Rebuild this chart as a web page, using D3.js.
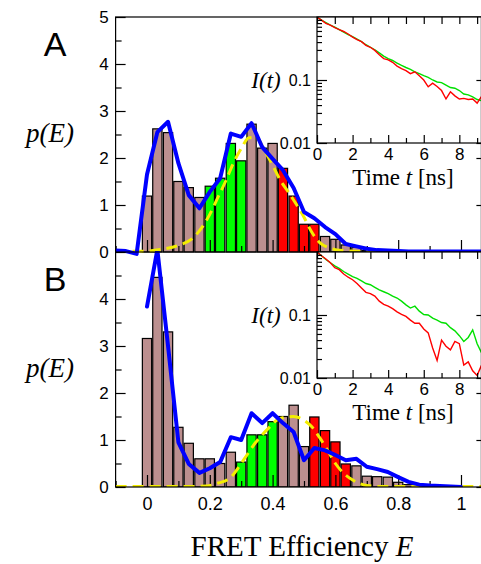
<!DOCTYPE html>
<html>
<head>
<meta charset="utf-8">
<script src="https://cdn.jsdelivr.net/npm/d3@7"></script>
<style>
  body { margin: 0; background: #fff; }
  text { fill: #000; }
</style>
</head>
<body>
<div id="chart"></div>
<script>
const width = 481;
const height = 564;

// histogram bins (FRET efficiency, bin centres), width 1/30
const binE = [0.000, 0.033, 0.067, 0.100, 0.133, 0.167, 0.200, 0.233, 0.267, 0.300,
              0.333, 0.367, 0.400, 0.433, 0.467, 0.500, 0.533, 0.567, 0.600, 0.633,
              0.667, 0.700, 0.733, 0.767, 0.800, 0.833, 0.867];
const binWidth = 0.0333;

// panel A histogram
const barsA = [1.19, 2.62, 2.54, 1.50, 1.37, 1.16, 1.40, 1.57, 2.31, 1.94,
               2.72, 2.21, 2.31, 1.78, 1.19, 0.59, 0.59, 0.33, 0.27, 0.15,
               0.10, 0.03, 0, 0, 0, 0, 0];
const groupA = ["n","n","n","n","n","n","g","g","g","g",
                "n","n","n","r","r","r","r","n","n","n",
                "n","n","n","n","n","n","n"];

// panel B histogram
const barsB = [3.16, 4.46, 3.30, 1.27, 0.93, 0.60, 0.60, 0.50, 0.74, 0.53,
               1.11, 1.11, 1.39, 1.50, 1.74, 0.86, 1.49, 1.20, 0.96, 0.49,
               0.45, 0.23, 0.22, 0.21, 0.10, 0.05, 0.03];
const groupB = ["n","n","n","n","n","n","n","n","n","g",
                "g","g","g","n","n","n","r","r","r","r",
                "n","n","n","n","n","n","n"];

// blue curves
const fitEA = [-0.100, -0.067, -0.033, 0.000, 0.033, 0.067, 0.100, 0.133, 0.167, 0.200,
               0.233, 0.267, 0.300, 0.333, 0.367, 0.400, 0.433, 0.467, 0.500, 0.533,
               0.567, 0.600, 0.633, 0.667, 0.700, 0.733, 0.767, 0.800, 0.833, 0.900, 1.000, 1.065];
const fitA  = [0.03, 0.02, -0.04, 1.65, 2.55, 2.77, 1.89, 1.21, 0.93, 1.28,
               1.57, 2.52, 2.45, 2.74, 2.23, 1.98, 1.74, 1.36, 0.85, 0.72,
               0.53, 0.38, 0.17, 0.12, 0.07, 0.04, 0.03, 0.02, 0.01, 0.01, 0.01, 0.01];
const fitEB = [0.000, 0.033, 0.067, 0.100, 0.133, 0.167, 0.200, 0.233, 0.267, 0.300,
               0.333, 0.367, 0.400, 0.433, 0.467, 0.500, 0.533, 0.567, 0.600, 0.633,
               0.667, 0.700, 0.733, 0.767, 0.800, 0.833, 0.867, 0.900, 0.933, 0.967, 1.000];
const fitB  = [3.84, 5.05, 3.00, 0.95, 0.49, 0.30, 0.40, 0.53, 1.06, 1.00,
               1.57, 1.36, 1.57, 1.36, 1.17, 0.57, 0.83, 0.78, 0.68, 0.57,
               0.60, 0.43, 0.38, 0.32, 0.21, 0.11, 0.05, 0.03, 0.02, 0.01, 0.00];

// yellow dashed curves
const gaussEA = [-0.1, 0.0, 0.05, 0.1, 0.15, 0.2, 0.225, 0.25, 0.275, 0.3, 0.325, 0.35, 0.375,
                 0.4, 0.425, 0.45, 0.475, 0.5, 0.525, 0.55, 0.575, 0.6, 0.65, 0.7, 1.065];
const gaussA  = [0.01, 0.02, 0.06, 0.14, 0.32, 0.8, 1.15, 1.5, 1.89, 2.2, 2.43, 2.42, 2.15,
                 1.85, 1.52, 1.28, 1.02, 0.74, 0.42, 0.2, 0.1, 0.05, 0.02, 0.01, 0.01];
const gaussEB = [-0.1, 0.1, 0.19, 0.225, 0.264, 0.307, 0.344, 0.381, 0.424, 0.466, 0.498,
                 0.525, 0.55, 0.575, 0.6, 0.625, 0.65, 0.675, 0.7, 0.75, 1.065];
const gaussB  = [0.01, 0.01, 0.02, 0.08, 0.19, 0.57, 0.93, 1.21, 1.46, 1.5, 1.43,
                 1.28, 1.05, 0.78, 0.5, 0.3, 0.17, 0.08, 0.03, 0.01, 0.01];

// fluorescence decays (insets)
const decayT = [0, 0.25, 0.5, 0.75, 1, 1.25, 1.5, 1.75, 2, 2.25, 2.5, 2.75, 3, 3.25, 3.5, 3.75,
                4, 4.25, 4.5, 4.75, 5, 5.25, 5.5, 5.75, 6, 6.25, 6.5, 6.75, 7, 7.25, 7.5, 7.75,
                8, 8.25, 8.5, 8.75, 9, 9.25];
const donorA = [1.0, 0.891, 0.813, 0.741, 0.692, 0.631, 0.575, 0.525, 0.490, 0.447, 0.407, 0.363,
                0.331, 0.302, 0.269, 0.240, 0.219, 0.204, 0.186, 0.170, 0.158, 0.148, 0.135, 0.126,
                0.117, 0.110, 0.100, 0.093, 0.091, 0.083, 0.076, 0.074, 0.068, 0.060, 0.058, 0.054,
                0.049, 0.047];
const acceptorA = [1.0, 0.891, 0.794, 0.741, 0.676, 0.631, 0.589, 0.537, 0.479, 0.437, 0.407, 0.355,
                   0.331, 0.295, 0.251, 0.219, 0.209, 0.191, 0.166, 0.151, 0.141, 0.126, 0.135, 0.117,
                   0.100, 0.078, 0.089, 0.079, 0.068, 0.050, 0.065, 0.056, 0.050, 0.051, 0.049, 0.050,
                   0.043, 0.055];
const donorB = [1.0, 0.871, 0.759, 0.676, 0.603, 0.550, 0.490, 0.447, 0.407, 0.380, 0.347, 0.316,
                0.302, 0.275, 0.251, 0.234, 0.219, 0.200, 0.186, 0.166, 0.145, 0.129, 0.138, 0.115,
                0.102, 0.100, 0.089, 0.083, 0.076, 0.074, 0.063, 0.056, 0.047, 0.038, 0.044, 0.058,
                0.035, 0.025];
const acceptorB = [1.0, 0.871, 0.776, 0.676, 0.562, 0.525, 0.447, 0.398, 0.363, 0.316, 0.269, 0.229,
                   0.219, 0.200, 0.166, 0.148, 0.138, 0.126, 0.112, 0.102, 0.095, 0.083, 0.074, 0.074,
                   0.060, 0.052, 0.030, 0.019, 0.040, 0.032, 0.028, 0.038, 0.035, 0.016, 0.018, 0.013,
                   0.011, 0.016];

// tick labels
const xTicks = [0, 0.2, 0.4, 0.6, 0.8, 1];
const xMinor = [-0.1, 0.1, 0.3, 0.5, 0.7, 0.9];
const yTicksA = [0, 1, 2, 3, 4, 5];
const yTicksB = [0, 1, 2, 3, 4];
const yMinor = [0.5, 1.5, 2.5, 3.5, 4.5];
const tTicks = [0, 2, 4, 6, 8];
const tMinor = [1, 3, 5, 7, 9];
const iTicks = [0.01, 0.1];

const barFill = { n: "#bc8f8f", g: "#00ff00", r: "#ff0000" };
const sans = "'Liberation Sans', Arial, sans-serif";
const serif = "'Liberation Serif', 'Times New Roman', serif";

const svg = d3.select("#chart").append("svg")
    .attr("width", width)
    .attr("height", height);

const x = d3.scaleLinear()
    .domain([-0.1, 1.065])
    .range([115.6, 481.4]);

const panels = [
    { name: "A", top: 17, bottom: 252, bars: barsA, group: groupA, fitE: fitEA, fit: fitA,
      gE: gaussEA, g: gaussA, yTicks: yTicksA, clip: [17, 256] },
    { name: "B", top: 252, bottom: 487, bars: barsB, group: groupB, fitE: fitEB, fit: fitB,
      gE: gaussEB, g: gaussB, yTicks: yTicksB, clip: [251, 487] }
];

panels.forEach((p, i) => {
    const y = d3.scaleLinear().domain([0, 5]).range([p.bottom, p.top]);
    p.y = y;

    svg.append("clipPath").attr("id", "clip" + i)
        .append("rect")
        .attr("x", x.range()[0]).attr("y", p.clip[0])
        .attr("width", x.range()[1] - x.range()[0])
        .attr("height", p.clip[1] - p.clip[0]);

    const g = svg.append("g").attr("clip-path", `url(#clip${i})`);

    g.selectAll("rect.bar")
        .data(binE.map((e, k) => ({ e, v: p.bars[k], c: p.group[k] })).filter(d => d.v > 0))
        .enter().append("rect")
        .attr("class", "bar")
        .attr("x", d => x(d.e - binWidth / 2) + 0.6)
        .attr("width", d => x(d.e + binWidth / 2) - x(d.e - binWidth / 2) - 1.2)
        .attr("y", d => y(d.v))
        .attr("height", d => y(0) - y(d.v))
        .attr("fill", d => barFill[d.c])
        .attr("stroke", "#000")
        .attr("stroke-width", 1.2);

    // small x ticks inside the panel bottom
    const bottomAxis = g.append("g").attr("transform", `translate(0,${p.bottom})`);
    bottomAxis.call(d3.axisBottom(x).tickValues(xTicks).tickSize(-12).tickFormat(""));
    bottomAxis.append("g").call(d3.axisBottom(x).tickValues(xMinor).tickSize(-6).tickFormat(""));
    bottomAxis.selectAll(".domain").remove();
    bottomAxis.selectAll("line").attr("stroke", "#000").attr("stroke-width", 1.2);

    const gaussLine = d3.line()
        .x(d => x(d[0]))
        .y(d => y(d[1]))
        .curve(d3.curveMonotoneX);
    g.append("path")
        .datum(p.gE.map((e, k) => [e, p.g[k]]))
        .attr("d", gaussLine)
        .attr("fill", "none")
        .attr("stroke", "#f4ee00")
        .attr("stroke-width", 3)
        .attr("stroke-dasharray", "11,6");

    const fitLine = d3.line()
        .x(d => x(d[0]))
        .y(d => y(d[1]));
    g.append("path")
        .datum(p.fitE.map((e, k) => [e, p.fit[k]]))
        .attr("d", fitLine)
        .attr("fill", "none")
        .attr("stroke", "#0000ff")
        .attr("stroke-width", 4)
        .attr("stroke-linejoin", "round")
        .attr("stroke-linecap", "round");

    // left axis
    const left = svg.append("g")
        .attr("transform", `translate(${x.range()[0]},0)`)
        .call(d3.axisLeft(y).tickValues(p.yTicks).tickSize(-10).tickPadding(7).tickFormat(d3.format("d")));
    left.append("g").call(d3.axisLeft(y).tickValues(yMinor).tickSize(-6).tickFormat(""));
    left.selectAll(".domain").remove();
    left.selectAll("line").attr("stroke", "#000").attr("stroke-width", 1.2);
    left.selectAll("text").style("font-family", sans).style("font-size", "17px").attr("fill", "#000");

    // right axis
    const right = svg.append("g")
        .attr("transform", `translate(${x.range()[1]},0)`)
        .call(d3.axisRight(y).tickValues(yTicksA).tickSize(-5).tickFormat(""));
    right.selectAll(".domain").remove();
    right.selectAll("line").attr("stroke", "#000").attr("stroke-width", 1.2);

    svg.append("text")
        .attr("x", 55).attr("y", p.top + 39)
        .attr("text-anchor", "middle")
        .style("font-family", sans).style("font-size", "34px")
        .text(p.name);

    svg.append("text")
        .attr("x", 50).attr("y", p.top + 125)
        .attr("text-anchor", "middle")
        .style("font-family", serif).style("font-size", "27px").style("font-style", "italic")
        .text("p(E)");
});

// frame
svg.append("rect")
    .attr("x", x.range()[0]).attr("y", panels[0].top)
    .attr("width", x.range()[1] - x.range()[0])
    .attr("height", panels[1].bottom - panels[0].top)
    .attr("fill", "none").attr("stroke", "#000").attr("stroke-width", 1.2);
svg.append("line")
    .attr("x1", x.range()[0]).attr("x2", x.range()[1])
    .attr("y1", panels[0].bottom).attr("y2", panels[0].bottom)
    .attr("stroke", "#000").attr("stroke-width", 1.2);

// x labels
const xAxis = svg.append("g")
    .attr("transform", `translate(0,${panels[1].bottom})`)
    .call(d3.axisBottom(x).tickValues(xTicks).tickSize(0).tickPadding(10).tickFormat(d => String(d)));
xAxis.selectAll(".domain, line").remove();
xAxis.selectAll("text").style("font-family", sans).style("font-size", "18px").attr("fill", "#000");

const xTitle = svg.append("text")
    .attr("x", 302).attr("y", 556)
    .attr("text-anchor", "middle")
    .style("font-family", serif).style("font-size", "29px");
xTitle.append("tspan").text("FRET Efficiency ");
xTitle.append("tspan").style("font-style", "italic").text("E");

// insets
const insets = [
    { top: 17, bottom: 143, donor: donorA, acceptor: acceptorA },
    { top: 252, bottom: 378, donor: donorB, acceptor: acceptorB }
];

insets.forEach((ins, i) => {
    const ix = d3.scaleLinear().domain([0, 9.24]).range([317, 481.4]);
    const iy = d3.scaleLog().domain([0.01, 1]).range([ins.bottom, ins.top]);

    svg.append("clipPath").attr("id", "iclip" + i)
        .append("rect")
        .attr("x", 317).attr("y", ins.top)
        .attr("width", 481.4 - 317).attr("height", ins.bottom - ins.top);

    svg.append("rect")
        .attr("x", 317).attr("y", ins.top)
        .attr("width", 481.4 - 317).attr("height", ins.bottom - ins.top)
        .attr("fill", "#fff");

    const g = svg.append("g").attr("clip-path", `url(#iclip${i})`);
    const line = d3.line().x((d, k) => ix(decayT[k])).y(d => iy(d));
    g.append("path").datum(ins.donor).attr("d", line)
        .attr("fill", "none").attr("stroke", "#00e000").attr("stroke-width", 1.4);
    g.append("path").datum(ins.acceptor).attr("d", line)
        .attr("fill", "none").attr("stroke", "#ff0000").attr("stroke-width", 1.4);

    const bx = svg.append("g").attr("transform", `translate(0,${ins.bottom})`)
        .call(d3.axisBottom(ix).tickValues(tTicks).tickSize(-8).tickPadding(5).tickFormat(d3.format("d")));
    bx.append("g").call(d3.axisBottom(ix).tickValues(tMinor).tickSize(-5).tickFormat(""));
    bx.selectAll("text").style("font-family", sans).style("font-size", "17px").attr("fill", "#000");

    const tx = svg.append("g").attr("transform", `translate(0,${ins.top})`)
        .call(d3.axisTop(ix).tickValues(tTicks.concat(tMinor)).tickSize(-7).tickFormat(""));

    const ly = svg.append("g").attr("transform", "translate(317,0)")
        .call(d3.axisLeft(iy).tickValues(iTicks).tickSize(-10).tickPadding(6).tickFormat(d => String(d)));
    ly.append("g").call(d3.axisLeft(iy).tickValues(iy.ticks().filter(v => !iTicks.includes(v) && v < 1)).tickSize(-5).tickFormat(""));
    ly.selectAll("text").style("font-family", sans).style("font-size", "16px").attr("fill", "#000");

    const ry = svg.append("g").attr("transform", "translate(481.4,0)")
        .call(d3.axisRight(iy).tickValues(iTicks).tickSize(-5).tickFormat(""));

    [bx, tx, ly, ry].forEach(a => {
        a.selectAll(".domain").remove();
        a.selectAll("line").attr("stroke", "#000").attr("stroke-width", 1.2);
    });

    svg.append("rect")
        .attr("x", 317).attr("y", ins.top)
        .attr("width", 481.4 - 317).attr("height", ins.bottom - ins.top)
        .attr("fill", "none").attr("stroke", "#000").attr("stroke-width", 1.2);

    svg.append("text")
        .attr("x", 266).attr("y", ins.top + 71)
        .attr("text-anchor", "middle")
        .style("font-family", serif).style("font-size", "23px").style("font-style", "italic")
        .text("I(t)");

    const tt = svg.append("text")
        .attr("x", 403).attr("y", ins.bottom + 42)
        .attr("text-anchor", "middle")
        .style("font-family", serif).style("font-size", "23px");
    tt.append("tspan").text("Time ");
    tt.append("tspan").style("font-style", "italic").text("t");
    tt.append("tspan").text(" [ns]");
});
</script>
</body>
</html>
